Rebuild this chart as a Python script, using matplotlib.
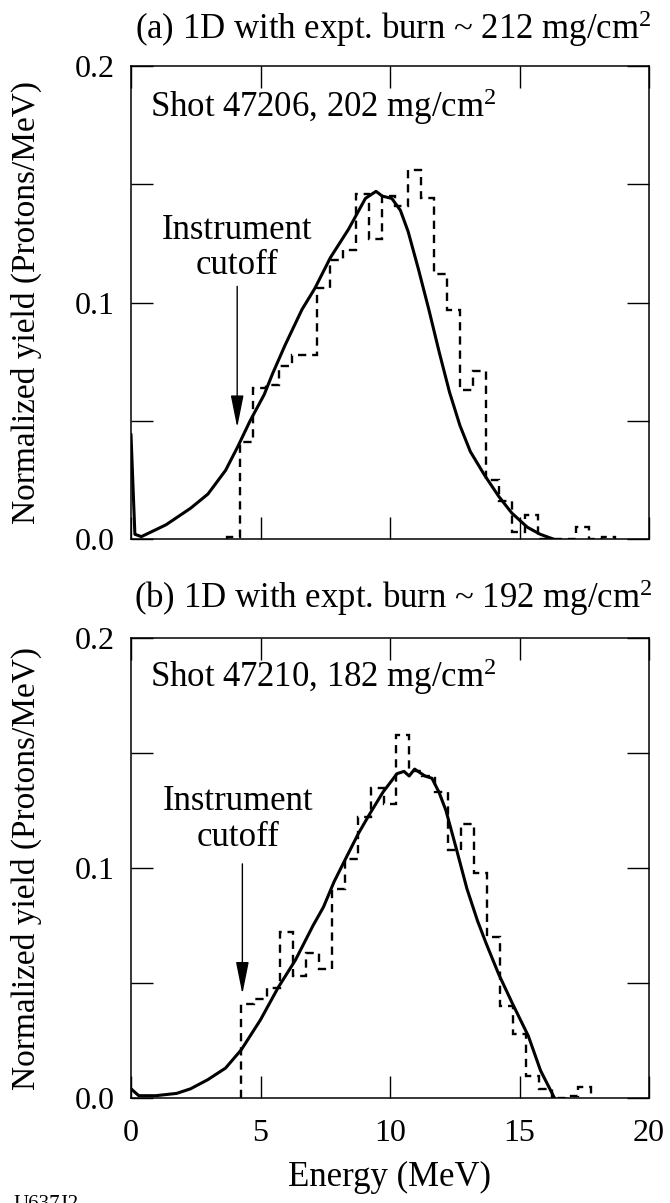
import matplotlib
matplotlib.use("Agg")
import matplotlib.pyplot as plt

plt.rcParams['font.family'] = ['Liberation Serif', 'DejaVu Serif']
plt.rcParams['mathtext.fontset'] = 'custom'
plt.rcParams['mathtext.rm'] = 'Liberation Serif'
plt.rcParams['mathtext.it'] = 'Liberation Serif:italic'

# (a) shot 47206 - 1D simulation (solid) and measured spectrum (dashed histogram)
sim_a_energy = [0.0, 0.15, 0.4, 1.35, 2.3, 2.97, 3.65, 4.12, 4.6, 5.14, 5.47, 5.95,
                6.6, 7.1, 7.7, 8.4, 8.8, 9.05, 9.46, 9.7, 10.07, 10.4, 10.7, 11.1,
                11.5, 11.9, 12.3, 12.7, 13.1, 13.65, 14.2, 14.7, 15.3, 15.8, 16.3]
sim_a_yield = [0.044, 0.002, 0.001, 0.006, 0.013, 0.019, 0.029, 0.039, 0.050, 0.061,
               0.070, 0.082, 0.097, 0.106, 0.119, 0.131, 0.139, 0.144, 0.147, 0.145,
               0.144, 0.139, 0.130, 0.114, 0.097, 0.079, 0.062, 0.048, 0.037, 0.027,
               0.018, 0.011, 0.005, 0.002, 0.0]
exp_a_edges = [3.7, 4.2, 4.7, 5.2, 5.7, 6.2, 6.7, 7.2, 7.7, 8.2, 8.7, 9.2, 9.7, 10.2,
               10.7, 11.2, 11.7, 12.2, 12.7, 13.2, 13.7, 14.2, 14.7, 15.2, 15.7, 16.2,
               16.7, 17.2, 17.7, 18.2, 18.7]
exp_a_yield = [0.001, 0.041, 0.064, 0.065, 0.073, 0.078, 0.078, 0.106, 0.118, 0.122,
               0.146, 0.127, 0.145, 0.141, 0.156, 0.144, 0.112, 0.097, 0.063, 0.071,
               0.025, 0.016, 0.003, 0.010, 0.0, 0.0, 0.0, 0.005, 0.0, 0.001]

# (b) shot 47210
sim_b_energy = [0.0, 0.3, 0.95, 1.76, 2.3, 2.97, 3.65, 4.26, 5.0, 5.68, 6.35, 7.03,
                7.43, 7.84, 8.24, 8.78, 9.19, 9.73, 10.27, 10.54, 10.74, 10.95, 11.35,
                11.62, 11.89, 12.16, 12.57, 12.97, 13.38, 13.72, 14.19, 14.73, 15.34,
                15.81, 16.35]
sim_b_yield = [0.004, 0.001, 0.001, 0.002, 0.004, 0.008, 0.013, 0.021, 0.034, 0.048,
               0.060, 0.075, 0.083, 0.094, 0.103, 0.115, 0.123, 0.133, 0.141, 0.142,
               0.140, 0.143, 0.140, 0.139, 0.133, 0.125, 0.108, 0.091, 0.077, 0.067,
               0.054, 0.041, 0.027, 0.012, 0.0]
exp_b_edges = [4.25, 4.75, 5.25, 5.75, 6.25, 6.75, 7.25, 7.75, 8.25, 8.75, 9.25, 9.75,
               10.25, 10.75, 11.25, 11.75, 12.25, 12.75, 13.25, 13.75, 14.25, 14.75,
               15.25, 15.75, 16.25, 16.75, 17.25, 17.75]
exp_b_yield = [0.041, 0.043, 0.048, 0.072, 0.053, 0.063, 0.056, 0.091, 0.104, 0.122,
               0.135, 0.128, 0.158, 0.142, 0.140, 0.133, 0.108, 0.119, 0.098, 0.070,
               0.040, 0.028, 0.0096, 0.004, 0.0, 0.001, 0.005]

panels = [
    dict(title='(a) 1D with expt. burn ~ 212 mg/cm$^2$',
         shot='Shot 47206, 202 mg/cm$^2$',
         sim=(sim_a_energy, sim_a_yield), exp=(exp_a_edges, exp_a_yield),
         text_x=4.08, arrow_x=4.1, arrow=(0.108, 0.046), text_y=0.123,
         box=(66, 539), title_y=29),
    dict(title='(b) 1D with expt. burn ~ 192 mg/cm$^2$',
         shot='Shot 47210, 182 mg/cm$^2$',
         sim=(sim_b_energy, sim_b_yield), exp=(exp_b_edges, exp_b_yield),
         text_x=4.12, arrow_x=4.3, arrow=(0.103, 0.044), text_y=0.121,
         box=(638, 1098), title_y=598),
]

W, H = 670, 1203
fig = plt.figure(figsize=(W / 100, H / 100), dpi=100)
FS = 25
TS = 23

for i, p in enumerate(panels):
    top, bot = p['box']
    ax = fig.add_axes([131 / W, 1 - bot / H, (649 - 131) / W, (bot - top) / H])
    e, y = p['sim']
    ax.plot(e, y, color='k', lw=2.2, solid_joinstyle='round')
    edges, vals = p['exp']
    ax.stairs(vals, edges, baseline=0, color='k', lw=1.7, linestyle=(0, (3.5, 2.5)))

    ax.set_xlim(0, 20)
    ax.set_ylim(0, 0.2)
    ax.set_xticks([0, 5, 10, 15, 20])
    ax.set_yticks([0, 0.05, 0.1, 0.15, 0.2])
    ax.set_yticklabels(['0.0', '', '0.1', '', '0.2'])
    ax.tick_params(direction='in', length=16, width=1.0, top=True, right=True,
                   labelsize=TS)
    ax.tick_params(axis='y', pad=12)
    ax.tick_params(axis='x', pad=15)
    if i == 0:
        ax.set_xticklabels([])
    for s in ax.spines.values():
        s.set_linewidth(1.1)

    ax.text(0.75, 0.183, p['shot'], fontsize=FS, ha='left', va='center')
    ax.text(p['text_x'], p['text_y'], 'Instrument\ncutoff', fontsize=FS,
            ha='center', va='center', linespacing=1.1)
    ax.annotate('', xy=(p['arrow_x'], p['arrow'][1]), xytext=(p['arrow_x'], p['arrow'][0]),
                arrowprops=dict(arrowstyle='-|>,head_length=1.0,head_width=0.2',
                                color='k', lw=1.0, mutation_scale=20))
    ax.set_ylabel('Normalized yield (Protons/MeV)', fontsize=24)
    ax.yaxis.set_label_coords(-(131 - 42) / (649 - 131), 0.5)

    fig.text(393 / W, 1 - p['title_y'] / H, p['title'], fontsize=FS,
             ha='center', va='center')

fig.text(390 / W, 1 - 1177 / H, 'Energy (MeV)', fontsize=FS, ha='center', va='center')
fig.text(13 / W, 1 - 1195 / H, 'U637J2', fontsize=15, ha='left', va='top')

fig.savefig('out.png', dpi=100, facecolor='white')
